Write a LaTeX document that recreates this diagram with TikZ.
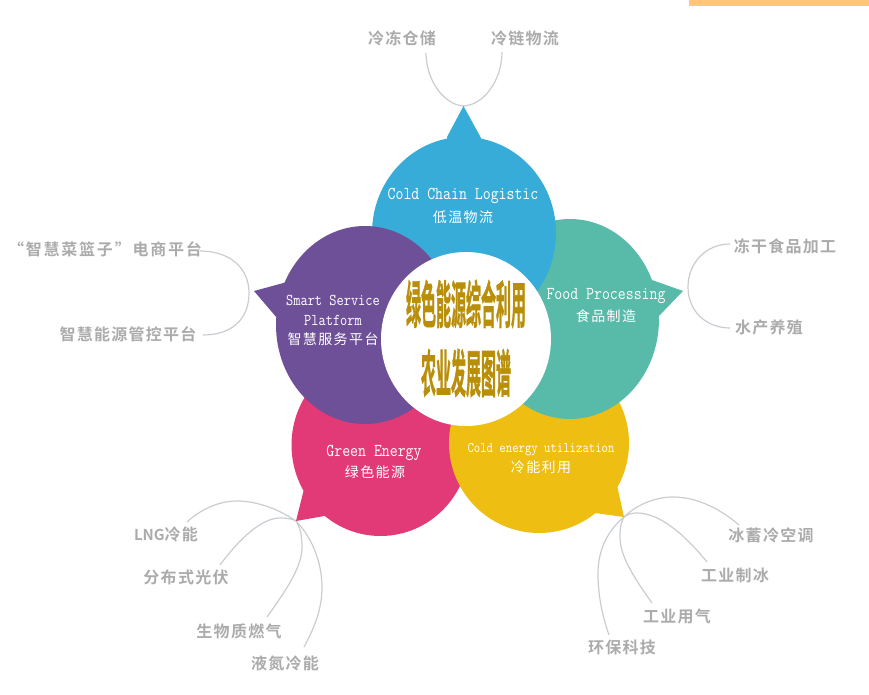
\documentclass[tikz,border=0pt]{standalone}
\usepackage{fontspec}
\usepackage{graphicx}
\usetikzlibrary{shapes.geometric}
\newfontfamily\cjkgrey[LetterSpace=8]{Noto Sans CJK SC Bold}
\newfontfamily\cjkgreywide[LetterSpace=11]{Noto Sans CJK SC Bold}
\newfontfamily\cjkgreyplain{Noto Sans CJK SC Bold}
\newfontfamily\cjkwhite[LetterSpace=10]{Noto Sans CJK SC}
\newfontfamily\cjktitle[FakeBold=1.5]{Noto Sans CJK SC Bold}
\definecolor{cblue}{HTML}{38ACD9}
\definecolor{cteal}{HTML}{58BBA9}
\definecolor{cpurple}{HTML}{6E5098}
\definecolor{cpink}{HTML}{E13A76}
\definecolor{cyellow}{HTML}{EFBE12}
\definecolor{cgold}{HTML}{B98E08}
\definecolor{cgrey}{HTML}{ABABAB}
\definecolor{cline}{HTML}{C9CCD0}
\definecolor{cbar}{HTML}{FFC875}
\tikzset{
  x=1pt,y=-1pt,
  petal/.style={ellipse,inner sep=0pt,outer sep=0pt,draw=none},
  greylabel/.style={inner sep=0pt,text=cgrey,font=\cjkgrey\fontsize{16}{18}\selectfont},
  latinlabel/.style={inner sep=0pt,text=white},
  cnlabel/.style={inner sep=0pt,text=white,font=\cjkwhite\fontsize{14}{16}\selectfont},
  branch/.style={draw=cline,line width=1.2pt},
  titlelabel/.style={inner sep=0pt,text=cgold,font=\cjktitle\fontsize{15}{17}\selectfont},
}
\newcommand{\lat}[1]{\ttfamily\fontsize{#1}{#1}\selectfont}
\newcommand{\tall}[1]{\scalebox{1}[1.18]{#1}}
\begin{document}
\begin{tikzpicture}
\useasboundingbox (0,0) rectangle (869,695);
\fill[cbar] (689,0) rectangle (869,6);

% anchors of the connectors
\coordinate (tipB) at (463.5,106);
\coordinate (tipP) at (254,291);
\coordinate (tipT) at (683,291);
\coordinate (tipK) at (296,521);
\coordinate (tipY) at (624,517);

% labels
\node[greylabel] (l1) at (402,38) {冷冻仓储};
\node[greylabel] (l2) at (525,38) {冷链物流};
\node[greylabel,font=\cjkgreywide\fontsize{16}{18}\selectfont] (l3) at (105,249) {“智慧菜篮子”电商平台};
\node[greylabel] (l4) at (128,334) {智慧能源管控平台};
\node[greylabel] (l5) at (785,246) {冻干食品加工};
\node[greylabel] (l6) at (769,327) {水产养殖};
\node[greylabel] (l7) at (166,534) {{\cjkgreyplain\fontsize{15}{18}\selectfont LNG}冷能};
\node[greylabel] (l8) at (186,577) {分布式光伏};
\node[greylabel] (l9) at (239,631) {生物质燃气};
\node[greylabel] (l10) at (285,663) {液氮冷能};
\node[greylabel] (l11) at (771,535) {冰蓄冷空调};
\node[greylabel] (l12) at (735,575) {工业制冰};
\node[greylabel] (l13) at (677,616) {工业用气};
\node[greylabel] (l14) at (622,647) {环保科技};

% free ends next to the labels
\coordinate (e1) at (426,53);
\coordinate (e2) at (502,52);
\coordinate (e3) at (200,251);
\coordinate (e4) at (203,335);
\coordinate (e5) at (730,244);
\coordinate (e6) at (730,328);
\coordinate (e7) at (187,522);
\coordinate (e8) at (220,565);
\coordinate (e9) at (267,617);
\coordinate (e10) at (304,647);
\coordinate (e11) at (739,525);
\coordinate (e12) at (707,562);
\coordinate (e13) at (652,603);
\coordinate (e14) at (609,635);

% connectors
\path[branch] (e1) .. controls (426,80) and (444,105) .. (tipB) .. controls (484,105) and (502,80) .. (e2);
\path[branch] (e3) .. controls (230,251) and (249,268) .. (249,293) .. controls (249,318) and (233,335) .. (e4);
\path[branch] (e5) .. controls (706,244) and (688,263) .. (688,287) .. controls (688,311) and (706,328) .. (e6);
\path[branch] (e7) .. controls (200,510) and (218,501) .. (237,501) .. controls (258,501) and (280,510) .. (tipK);
\path[branch] (e8) .. controls (240,538) and (262,518) .. (280,518) .. controls (288,518) and (292,519) .. (tipK);
\path[branch] (e9) .. controls (290,585) and (302,565) .. (302,547) .. controls (302,535) and (300,527) .. (tipK);
\path[branch] (e10) .. controls (316,625) and (322,607) .. (322,587) .. controls (322,560) and (310,535) .. (tipK);
\path[branch] (e11) .. controls (718,507) and (695,497) .. (673,497) .. controls (655,497) and (636,505) .. (tipY);
\path[branch] (e12) .. controls (685,535) and (660,513) .. (637,513) .. controls (632,513) and (628,514) .. (tipY);
\path[branch] (e13) .. controls (632,575) and (620,555) .. (620,537) .. controls (620,528) and (621,522) .. (tipY);
\path[branch] (e14) .. controls (602,615) and (598,595) .. (598,573) .. controls (598,550) and (608,530) .. (tipY);

% petals, bottom layer first
\fill[cpink] (tipK) -- (305,485) -- (340,480) -- (330,515) -- cycle;
\node[petal,fill=cpink,minimum width=178pt,minimum height=182pt] (pink) at (380.5,445) {};
\fill[cyellow] (tipY) -- (617,485) -- (580,480) -- (595,513) -- cycle;
\node[petal,fill=cyellow,minimum width=180pt,minimum height=180pt] (yellow) at (539,443) {};
\fill[cteal] (tipT) -- (652,280) -- (630,300) -- (658,317) -- cycle;
\node[petal,fill=cteal,minimum width=178pt,minimum height=200pt] (teal) at (570,319) {};
\fill[cblue] (tipB) -- (447,137) -- (447,160) -- (481,160) -- (481,138) -- cycle;
\node[petal,fill=cblue,minimum width=184pt,minimum height=192pt] (blue) at (464,233) {};
\fill[cpurple] (tipP) -- (287,282) -- (300,300) -- (277,318) -- cycle;
\node[petal,fill=cpurple,minimum width=178pt,minimum height=198pt] (purple) at (365,325) {};
\node[petal,fill=white,minimum width=170pt,minimum height=174pt] (centre) at (466,339) {};

% petal texts
\node[latinlabel,font=\lat{15.4}] (t1) at (463,196) {\tall{Cold Chain Logistic}};
\node[cnlabel] (t2) at (463,217) {低温物流};
\node[latinlabel,font=\lat{15.4}] (t3) at (606,296) {\tall{Food Processing}};
\node[cnlabel] (t4) at (606,316) {食品制造};
\node[latinlabel,font=\lat{14}] (t5) at (333,300) {\tall{Smart Service}};
\node[latinlabel,font=\lat{14}] (t6) at (333,320) {\tall{Platform}};
\node[cnlabel] (t7) at (333,339) {智慧服务平台};
\node[latinlabel,font=\lat{15.4}] (t8) at (374,453) {\tall{Green Energy}};
\node[cnlabel] (t9) at (375,472) {绿色能源};
\node[latinlabel,font=\lat{12.4}] (t10) at (541,450) {\tall{Cold energy utilization}};
\node[cnlabel] (t11) at (541,467) {冷能利用};

% title
\node[titlelabel] (c1) at (466,304) {\scalebox{1}[3.4]{绿色能源综合利用}};
\node[titlelabel] (c2) at (466,373) {\scalebox{1}[3.4]{农业发展图谱}};
\end{tikzpicture}
\end{document}
